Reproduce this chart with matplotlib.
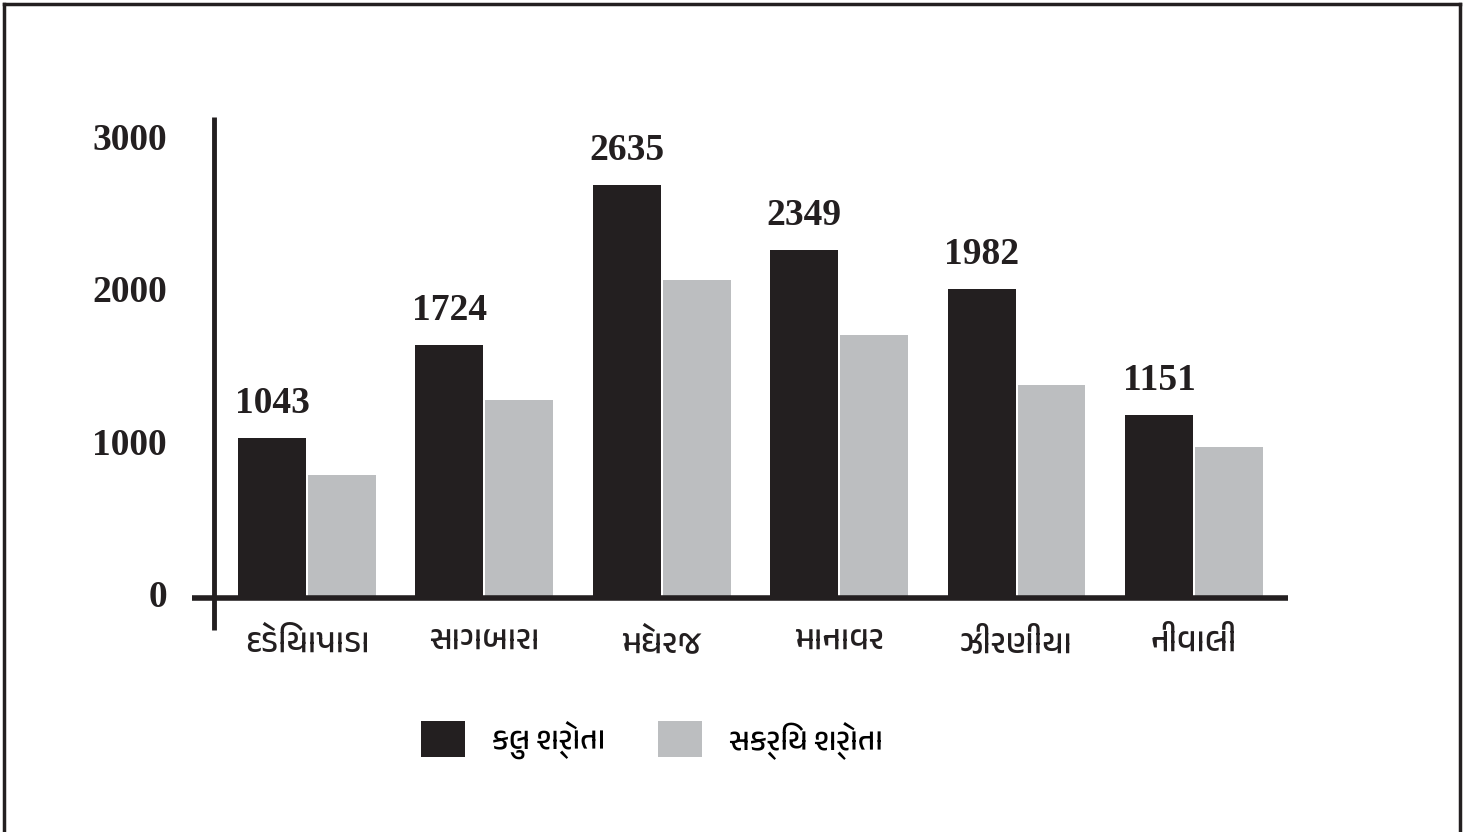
import matplotlib
matplotlib.use("Agg")
import matplotlib.pyplot as plt
from matplotlib.patches import Patch
from matplotlib.lines import Line2D
from matplotlib import font_manager

# data
villages = ["દેડિયાપાડા", "સાગબારા", "મેઘરજ", "માનાવર", "ઝીરણીયા", "નીવાલી"]
total = [1049, 1659, 2708, 2282, 2026, 1200]
active = [807, 1298, 2085, 1725, 1397, 990]
total_labels = ["1043", "1724", "2635", "2349", "1982", "1151"]
series_names = ["કુલ શ્રોતા", "સક્રિય શ્રોતા"]
yticks = [0, 1000, 2000, 3000]

dark = "#231f20"
light = "#bcbec0"

# pick any installed font that has gujarati glyphs
guj = [f.name for f in font_manager.fontManager.ttflist if "Gujarati" in f.name]
guj_family = guj[:1] + ["Noto Sans", "DejaVu Sans"]

num_font = dict(family="Liberation Serif", weight="bold", size=27)

W, H = 1481, 832
fig = plt.figure(figsize=(W / 100, H / 100), dpi=100)

# axes placed in pixel terms: x 192..1288, y 117..630
left, right, top, bottom = 192, 1288, 117, 630
ax = fig.add_axes([left / W, 1 - bottom / H, (right - left) / W, (bottom - top) / H])
ax.set_xlim(-0.648, 5.53)
ax.set_ylim(-210, 3151)
ax.axis("off")

x = list(range(len(villages)))
bw = 0.383
off = 0.197
ax.bar([i - off for i in x], total, width=bw, color=dark)
ax.bar([i + off for i in x], active, width=bw, color=light)

for i, v in enumerate(total):
    ax.text(i - off, v + 110, total_labels[i], ha="center", va="bottom", color=dark, **num_font)

# axis lines
ax.plot([-0.648, 5.53], [0, 0], color=dark, lw=4, clip_on=False, solid_capstyle="butt")
ax.plot([-0.524, -0.524], [-210, 3151], color=dark, lw=3.5, clip_on=False, solid_capstyle="butt")

for t in yticks:
    ax.text(-0.79, t, str(t), ha="right", va="center", color=dark, **num_font)

for i, name in enumerate(villages):
    ax.text(i, -190, name, ha="center", va="top", family=guj_family, weight="bold",
            fontsize=24, color=dark)

handles = [Patch(facecolor=dark), Patch(facecolor=light)]
leg = fig.legend(handles, series_names, loc="center left", bbox_to_anchor=(393 / W, 1 - 740 / H),
                 ncol=2, frameon=False, handlelength=1.45, handleheight=1.45,
                 handletextpad=0.9, columnspacing=1.7,
                 prop=dict(family=guj_family, weight="bold", size=22))

# border on three sides
fig.add_artist(Line2D([4 / W, 4 / W], [0, 1 - 4 / H], color=dark, lw=2.5))
fig.add_artist(Line2D([4 / W, 1460 / W], [1 - 4 / H, 1 - 4 / H], color=dark, lw=2.5))
fig.add_artist(Line2D([1460 / W, 1460 / W], [0, 1 - 4 / H], color=dark, lw=2.5))

fig.savefig("out.png", dpi=100)
